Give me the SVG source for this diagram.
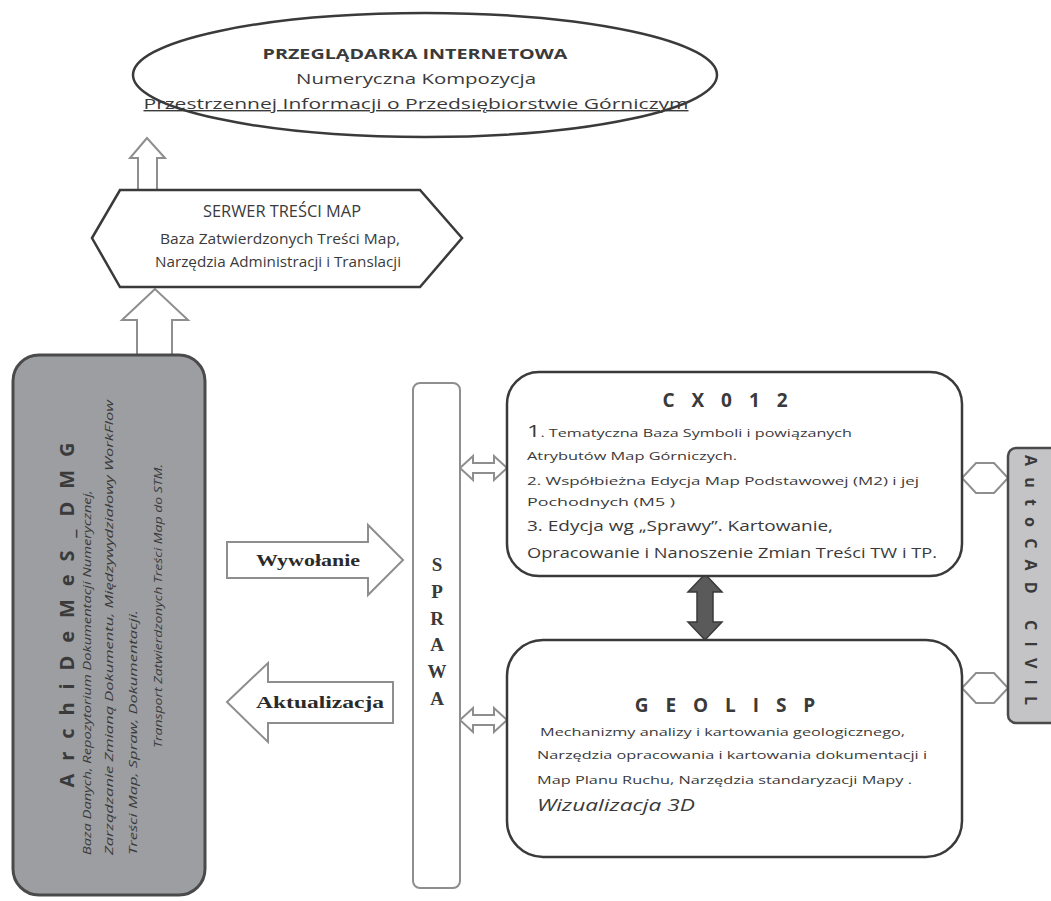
<svg xmlns="http://www.w3.org/2000/svg" width="1051" height="901" viewBox="0 0 1051 901">
<style>
.bg{fill:#ffffff}
.outline{fill:#ffffff;stroke:#3a3a3a;stroke-width:2.5}
.hollow{fill:#ffffff;stroke:#8e8e8e;stroke-width:2}
.sans{font-family:"Open Sans","Liberation Sans",sans-serif;fill:#3a3a3a}
.serif{font-family:"Liberation Serif","DejaVu Serif",serif;fill:#2a2a2a;font-weight:bold}
.title{font-weight:bold;letter-spacing:6px;font-size:19px}
</style>
<rect class="bg" x="0" y="0" width="1051" height="901"/>

<g id="connectors">
  <polygon class="hollow" points="147,138 130,158 138,158 138,190 157,190 157,158 165,158"/>
  <polygon class="hollow" points="155,289 122,320 137,320 137,356 172,356 172,320 188,320"/>
  <polygon class="hollow" points="227,542 368,542 368,525 403,560 368,595 368,578 227,578" stroke-width="2.5"/>
  <polygon class="hollow" points="227,702 268,663 268,682 393,682 393,723 268,723 268,742" stroke-width="2.5"/>
  <polygon class="hollow" points="460,468 473,456 473,463 494,463 494,456 507,468 494,480 494,473 473,473 473,480"/>
  <polygon class="hollow" points="460,720 473,708 473,715 494,715 494,708 507,720 494,732 494,725 473,725 473,732"/>
  <polygon points="705,574 722,592 713,592 713,622 722,622 705,640 688,622 697,622 697,592 688,592" fill="#5a5a5a" stroke="#3a3a3a" stroke-width="1.5"/>
  <polygon class="hollow" points="962,478 976,463 994,463 1008,478 994,493 976,493"/>
  <polygon class="hollow" points="962,688 976,673 994,673 1008,688 994,703 976,703"/>
</g>

<g id="przegladarka">
  <ellipse class="outline" cx="425" cy="75" rx="292" ry="62"/>
  <text class="sans" x="415" y="59" text-anchor="middle" font-size="15" font-weight="bold" textLength="305" lengthAdjust="spacingAndGlyphs">PRZEGLĄDARKA INTERNETOWA</text>
  <text class="sans" x="416" y="84" text-anchor="middle" font-size="14" textLength="240" lengthAdjust="spacingAndGlyphs">Numeryczna Kompozycja</text>
  <text class="sans" x="416" y="109" text-anchor="middle" font-size="14" text-decoration="underline" textLength="545" lengthAdjust="spacingAndGlyphs">Przestrzennej  Informacji o Przedsiębiorstwie Górniczym</text>
</g>

<g id="serwer">
  <polygon class="outline" points="92,238 120,190 420,190 462,238 420,287 120,287"/>
  <text class="sans" x="282" y="217" text-anchor="middle" font-size="16" textLength="158" lengthAdjust="spacingAndGlyphs">SERWER TREŚCI MAP</text>
  <text class="sans" x="280" y="244" text-anchor="middle" font-size="14" textLength="240" lengthAdjust="spacingAndGlyphs">Baza Zatwierdzonych Treści Map,</text>
  <text class="sans" x="278" y="267" text-anchor="middle" font-size="14" textLength="246" lengthAdjust="spacingAndGlyphs">Narzędzia Administracji i Translacji</text>
</g>

<g id="archidemes">
  <rect x="13" y="355" width="192" height="540" rx="26" fill="#9d9ea2" stroke="#4a4a4a" stroke-width="3"/>
  <text class="sans" transform="translate(74,615) rotate(-90)" text-anchor="middle" font-size="20" font-weight="bold" fill="#2e2e2e" textLength="345" lengthAdjust="spacing">ArchiDeMeS_DMG</text>
  <text class="sans" transform="translate(91,855) rotate(-90)" font-size="11" font-style="italic" fill="#2e2e2e" textLength="365" lengthAdjust="spacingAndGlyphs">Baza Danych, Repozytorium Dokumentacji Numerycznej,</text>
  <text class="sans" transform="translate(113,855) rotate(-90)" font-size="11" font-style="italic" fill="#2e2e2e" textLength="455" lengthAdjust="spacingAndGlyphs">Zarządzanie Zmianą Dokumentu, Międzywydziałowy WorkFlow</text>
  <text class="sans" transform="translate(137,855) rotate(-90)" font-size="11" font-style="italic" fill="#2e2e2e" textLength="245" lengthAdjust="spacingAndGlyphs">Treści Map, Spraw, Dokumentacji.</text>
  <text class="sans" transform="translate(162,606) rotate(-90)" text-anchor="middle" font-size="11" font-style="italic" fill="#2e2e2e" textLength="284" lengthAdjust="spacingAndGlyphs">Transport  Zatwierdzonych  Treści Map do STM.</text>
</g>

<g id="wywolanie">
  <text class="serif" x="308" y="566" text-anchor="middle" font-size="16" textLength="104" lengthAdjust="spacingAndGlyphs">Wywołanie</text>
</g>
<g id="aktualizacja">
  <text class="serif" x="320" y="708" text-anchor="middle" font-size="17" textLength="128" lengthAdjust="spacingAndGlyphs">Aktualizacja</text>
</g>

<g id="sprawa">
  <rect x="413" y="383" width="47" height="505" rx="7" fill="#ffffff" stroke="#8e8e8e" stroke-width="2"/>
  <g font-family="Liberation Serif, DejaVu Serif, serif" font-size="19" font-weight="bold" fill="#3a3a3a" text-anchor="middle">
    <text x="437" y="571">S</text>
    <text x="437" y="598">P</text>
    <text x="437" y="625">R</text>
    <text x="437" y="651">A</text>
    <text x="437" y="678">W</text>
    <text x="437" y="705">A</text>
  </g>
</g>

<g id="cx012">
  <rect class="outline" x="507" y="372" width="455" height="204" rx="32"/>
  <text class="sans title" x="728" y="407" text-anchor="middle">C X 0 1 2</text>
  <text class="sans" x="527" y="437" font-size="11" textLength="325" lengthAdjust="spacingAndGlyphs"><tspan font-size="16">1</tspan>. Tematyczna  Baza  Symboli  i  powiązanych</text>
  <text class="sans" x="527" y="460" font-size="11" textLength="210" lengthAdjust="spacingAndGlyphs">Atrybutów  Map  Górniczych.</text>
  <text class="sans" x="527" y="485" font-size="11" textLength="392" lengthAdjust="spacingAndGlyphs">2. Współbieżna  Edycja Map Podstawowej  (M2)  i  jej</text>
  <text class="sans" x="527" y="506" font-size="11" textLength="148" lengthAdjust="spacingAndGlyphs">Pochodnych  (M5 )</text>
  <text class="sans" x="527" y="531" font-size="15" textLength="306" lengthAdjust="spacingAndGlyphs">3. Edycja wg „Sprawy”. Kartowanie,</text>
  <text class="sans" x="527" y="558" font-size="15" textLength="410" lengthAdjust="spacingAndGlyphs">Opracowanie i Nanoszenie Zmian Treści TW i TP.</text>
</g>

<g id="geolisp">
  <rect class="outline" x="507" y="640" width="455" height="217" rx="36"/>
  <text class="sans title" x="728" y="712" text-anchor="middle">G E O L I S P</text>
  <text class="sans" x="540" y="736" font-size="11" textLength="365" lengthAdjust="spacingAndGlyphs">Mechanizmy  analizy  i  kartowania  geologicznego,</text>
  <text class="sans" x="537" y="759" font-size="11" textLength="390" lengthAdjust="spacingAndGlyphs">Narzędzia  opracowania   i kartowania  dokumentacji   i</text>
  <text class="sans" x="537" y="784" font-size="11" textLength="375" lengthAdjust="spacingAndGlyphs">Map Planu Ruchu, Narzędzia standaryzacji Mapy .</text>
  <text class="sans" x="537" y="811" font-size="17" font-style="italic" textLength="158" lengthAdjust="spacingAndGlyphs">Wizualizacja 3D</text>
</g>

<g id="autocad">
  <rect x="1008" y="448" width="60" height="275" rx="8" fill="#c4c4c6" stroke="#4a4a4a" stroke-width="2.5"/>
  <text class="sans" transform="translate(1025,580) rotate(90)" text-anchor="middle" font-size="16" font-weight="bold" fill="#2e2e2e" textLength="250" lengthAdjust="spacing">AutoCAD CIVIL</text>
</g>
</svg>
